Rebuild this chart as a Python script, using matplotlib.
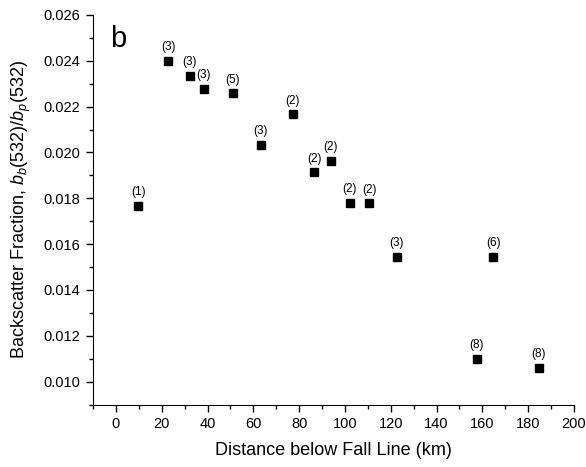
import matplotlib
matplotlib.use("Agg")
import matplotlib.pyplot as plt
from matplotlib.ticker import MultipleLocator, FormatStrFormatter

plt.rcParams['font.family'] = ['Liberation Sans', 'DejaVu Sans']
plt.rcParams['mathtext.fontset'] = 'custom'
plt.rcParams['mathtext.rm'] = 'Liberation Sans'
plt.rcParams['mathtext.it'] = 'Liberation Sans:italic'

# distance below the fall line (km), backscatter fraction, number of samples
distancia = [9.7, 22.9, 32.3, 38.3, 51.1, 63.3, 77.3, 86.5, 93.7, 102.2, 110.6,
             122.6, 157.5, 164.8, 184.7]
fraccion = [0.01766, 0.02400, 0.02334, 0.02277, 0.02258, 0.02032, 0.02166,
            0.01913, 0.01964, 0.01779, 0.01778, 0.01545, 0.01100, 0.01545, 0.01060]
muestras = [1, 3, 3, 3, 5, 3, 2, 2, 2, 2, 2, 3, 8, 6, 8]

fig = plt.figure(figsize=(5.86, 4.67), dpi=100)
ax = fig.add_axes([0.1587, 0.1338, 0.8208, 0.8341])

ax.plot(distancia, fraccion, 's', color='black', markersize=6.2, linestyle='none')

for x, y, n in zip(distancia, fraccion, muestras):
    ax.annotate(f'({n})', (x, y), xytext=(0, 5.5), textcoords='offset points',
                ha='center', va='bottom', fontsize=8.5)

ax.set_xlim(-10, 200)
ax.set_ylim(0.009, 0.026)
ax.xaxis.set_major_locator(MultipleLocator(20))
ax.xaxis.set_minor_locator(MultipleLocator(10))
ax.yaxis.set_major_locator(MultipleLocator(0.002))
ax.yaxis.set_minor_locator(MultipleLocator(0.001))
ax.yaxis.set_major_formatter(FormatStrFormatter('%.3f'))

ax.spines['top'].set_visible(False)
ax.spines['right'].set_visible(False)
ax.tick_params(which='major', direction='out', length=5, width=1, labelsize=10.5, pad=4)
ax.tick_params(which='minor', direction='out', length=3, width=1)

ax.set_xlabel('Distance below Fall Line (km)', fontsize=13, labelpad=8)
ax.set_ylabel(r'Backscatter Fraction, $b_b$(532)/$b_p$(532)', fontsize=13, labelpad=8)

ax.text(0.035, 0.975, 'b', transform=ax.transAxes, fontsize=21, va='top', ha='left')

fig.savefig('out.png', dpi=100)
